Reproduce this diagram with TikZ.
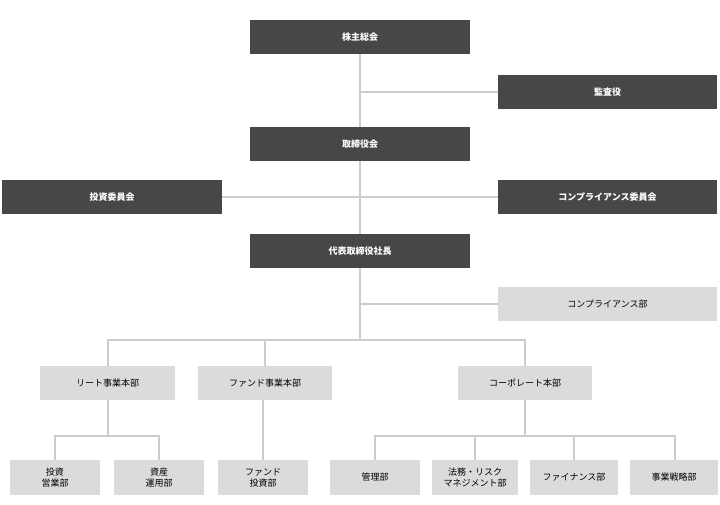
\documentclass[tikz,border=0pt]{standalone}
\usepackage{fontspec}
\setmainfont{Noto Sans CJK JP}
\begin{document}
\begin{tikzpicture}[x=1pt,y=-1pt,
  dk/.style={fill=black!72,text=white,font=\fontsize{9}{11}\selectfont\bfseries,inner sep=0pt,align=center},
  lt/.style={fill=black!14,text=black,font=\fontsize{9}{11}\selectfont,inner sep=0pt,align=center},
  ln/.style={draw=black!20,line width=1.2pt}]
\useasboundingbox (0,0) rectangle (720,505);
\fill[white] (0,0) rectangle (720,505);
% connectors first
\coordinate (top) at (360,54);
\coordinate (mid) at (360,340);
\draw[ln] (top) -- (mid);
\draw[ln] (360,92) -- (498,92);
\draw[ln] (222,197) -- (498,197);
\draw[ln] (360,304) -- (498,304);
\draw[ln] (108,366) -- (108,340) -- (525,340) -- (525,366);
\draw[ln] (265,340) -- (265,366);
\draw[ln] (108,400) -- (108,436);
\draw[ln] (55,460) -- (55,436) -- (159,436) -- (159,460);
\draw[ln] (263,400) -- (263,460);
\draw[ln] (525,400) -- (525,436);
\draw[ln] (375,460) -- (375,436) -- (675,436) -- (675,460);
\draw[ln] (475,436) -- (475,460);
\draw[ln] (574,436) -- (574,460);
% boxes
\node[dk,minimum width=220pt,minimum height=34pt] (a) at (360,37) {株主総会};
\node[dk,minimum width=219pt,minimum height=34pt] (b) at (607.5,92) {監査役};
\node[dk,minimum width=220pt,minimum height=34pt] (c) at (360,144) {取締役会};
\node[dk,minimum width=220pt,minimum height=34pt] (d) at (112,197) {投資委員会};
\node[dk,minimum width=219pt,minimum height=34pt] (e) at (607.5,197) {コンプライアンス委員会};
\node[dk,minimum width=220pt,minimum height=34pt] (f) at (360,251) {代表取締役社長};
\node[lt,minimum width=219pt,minimum height=34pt] (g) at (607.5,304) {コンプライアンス部};
\node[lt,minimum width=135pt,minimum height=34pt] (h) at (107.5,383) {リート事業本部};
\node[lt,minimum width=134pt,minimum height=34pt] (i) at (265,383) {ファンド事業本部};
\node[lt,minimum width=134pt,minimum height=34pt] (j) at (525,383) {コーポレート本部};
\node[lt,minimum width=90pt,minimum height=35pt] (k) at (55,477.5) {投資\\営業部};
\node[lt,minimum width=90pt,minimum height=35pt] (l) at (159,477.5) {資産\\運用部};
\node[lt,minimum width=90pt,minimum height=35pt] (m) at (263,477.5) {ファンド\\投資部};
\node[lt,minimum width=90pt,minimum height=35pt] (n) at (375,477.5) {管理部};
\node[lt,minimum width=86pt,minimum height=35pt] (o) at (475,477.5) {法務・リスク\\マネジメント部};
\node[lt,minimum width=88pt,minimum height=35pt] (p) at (574,477.5) {ファイナンス部};
\node[lt,minimum width=88pt,minimum height=35pt] (q) at (674,477.5) {事業戦略部};
\end{tikzpicture}
\end{document}
